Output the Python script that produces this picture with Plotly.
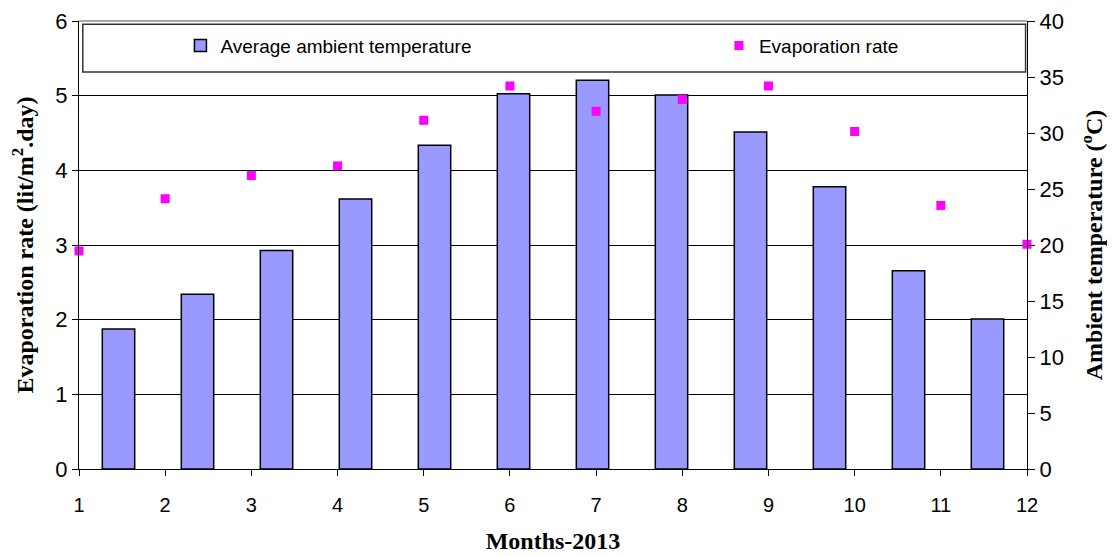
import plotly.graph_objects as go

months = list(range(1, 13))
temperature = [12.5, 15.6, 19.5, 24.1, 28.9, 33.5, 34.7, 33.4, 30.1, 25.2, 17.7, 13.4]
evaporation = [2.92, 3.62, 3.93, 4.06, 4.67, 5.13, 4.79, 4.95, 5.13, 4.52, 3.53, 3.01]

ytick_font = dict(family="Liberation Sans, Arial", size=22, color="black")
xtick_font = dict(family="Liberation Sans, Arial", size=20, color="black")
title_font = dict(family="Liberation Serif, Times New Roman", size=24, color="black")
legend_font = dict(family="Liberation Sans, Arial", size=19, color="black")

fig = go.Figure()
fig.add_trace(go.Bar(
    x=months, y=temperature, name="Average ambient temperature",
    marker=dict(color="#9999FF", line=dict(color="black", width=1.5)),
    width=0.41, xaxis="x", yaxis="y", legend="legend",
))
fig.add_trace(go.Scatter(
    x=months, y=evaporation, name="Evaporation rate", mode="markers",
    marker=dict(symbol="square", size=9, color="#FF00FF"),
    xaxis="x2", yaxis="y2", legend="legend2", cliponaxis=False,
))

fig.update_layout(
    width=1107, height=548,
    margin=dict(l=71, r=88, t=13, b=87, autoexpand=False),
    plot_bgcolor="white", paper_bgcolor="white",
    showlegend=True,
    xaxis=dict(range=[0.5, 12.5], visible=False, showgrid=False),
    yaxis=dict(range=[0, 40], dtick=5, side="right", showgrid=False,
               showline=True, linecolor="black", linewidth=1,
               ticks="outside", ticklen=7, tickcolor="black",
               tickfont=ytick_font, zeroline=False, automargin=False,
               title=dict(text="<b>Ambient temperature (<sup>o</sup>C)</b>",
                          font=title_font, standoff=22)),
    xaxis2=dict(range=[1, 12], overlaying="x", anchor="y2", side="bottom",
                tickvals=months, showgrid=False, showline=True,
                linecolor="black", linewidth=1, ticks="outside", ticklen=6,
                tickcolor="black", tickfont=xtick_font, zeroline=False,
                ticklabelstandoff=12, automargin=False,
                title=dict(text="<b>Months-2013</b>", font=title_font, standoff=17)),
    yaxis2=dict(range=[0, 6], dtick=1, overlaying="y", side="left",
                showgrid=True, gridcolor="black", gridwidth=1,
                showline=True, linecolor="black", linewidth=1,
                ticks="outside", ticklen=6, tickcolor="black",
                tickfont=ytick_font, zeroline=False, automargin=False,
                title=dict(text="<b>Evaporation rate (lit/m<sup>2</sup>.day)</b>",
                           font=title_font, standoff=15)),
    legend=dict(x=0.107, y=0.945, xanchor="left", yanchor="middle",
                bgcolor="rgba(0,0,0,0)", font=legend_font, itemclick=False),
    legend2=dict(x=0.675, y=0.945, xanchor="left", yanchor="middle",
                 bgcolor="rgba(0,0,0,0)", font=legend_font, itemclick=False),
    shapes=[
        dict(type="rect", xref="paper", yref="paper", x0=0.004, x1=0.9985, y0=0.886, y1=0.993,
             line=dict(color="#333333", width=1.5), fillcolor="rgba(0,0,0,0)", layer="above"),
        dict(type="line", xref="paper", yref="paper", x0=0, x1=1, y0=1, y1=1,
             line=dict(color="#888888", width=1.5)),
    ],
)

fig.write_html("out.html")
